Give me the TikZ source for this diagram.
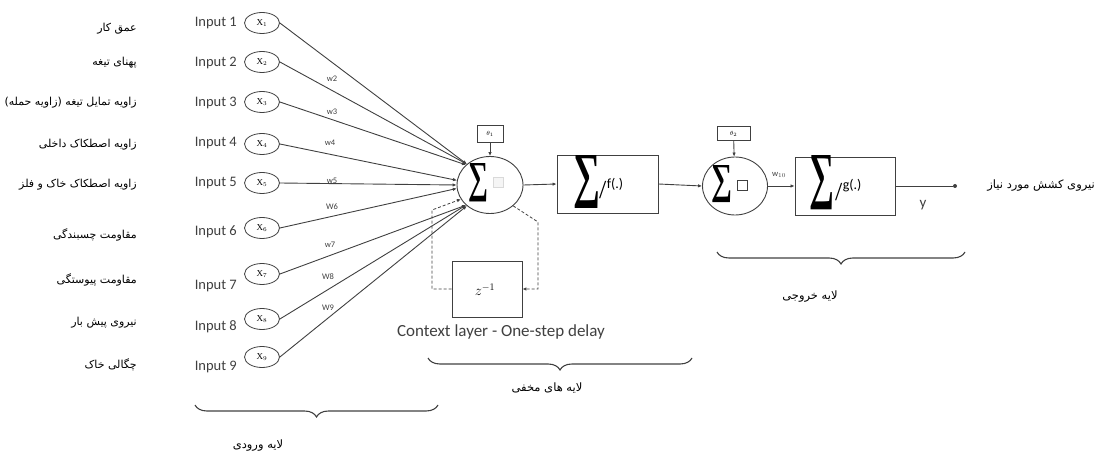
\documentclass[tikz,border=0pt]{standalone}
\usepackage{fontspec}
\usepackage{graphicx}
\setmainfont{Liberation Serif}
\newfontfamily\carl{Carlito}
\newfontfamily\fa[Script=Arabic]{DejaVu Sans}
\TeXXeTstate=1
\usetikzlibrary{arrows.meta,decorations.pathreplacing,shapes.geometric}
\definecolor{ln}{gray}{0.25}
\newcommand{\sgm}[2]{\resizebox{#1}{#2}{\textbf{∑}}}
\tikzset{
  falbl/.style={anchor=east,font=\fa\fontsize{11}{12}\selectfont,inner sep=0pt},
  inlbl/.style={anchor=east,font=\carl\fontsize{14.5}{15}\selectfont,inner sep=0pt,text=ln},
  xin/.style={draw=ln,ellipse,line width=0.8pt,minimum width=35pt,minimum height=21pt,inner sep=0pt,font=\fontsize{9}{10}\selectfont},
  wlbl/.style={font=\carl\fontsize{8.5}{9}\selectfont,inner sep=0pt,text=ln},
  conn/.style={draw=ln,line width=0.9pt,-{Latex[length=4pt,width=3.5pt]}},
  dconn/.style={draw=ln,line width=0.8pt,densely dashed,-{Latex[length=4pt,width=3.5pt]}},
  sumnode/.style={draw=ln,ellipse,line width=0.9pt,minimum width=66pt,minimum height=57pt,inner sep=0pt},
  blk/.style={draw=ln,line width=0.9pt,rectangle,inner sep=0pt},
  bias/.style={draw=ln,line width=0.7pt,rectangle,inner sep=0pt,font=\fontsize{6}{6}\selectfont},
  brc/.style={draw=ln,line width=1.1pt,decorate,decoration={brace,amplitude=12pt}},
  falayer/.style={font=\fa\fontsize{11.5}{12}\selectfont,inner sep=0pt},
  fnlbl/.style={inner sep=0pt,anchor=west}
}
\begin{document}
\begin{tikzpicture}[x=1pt,y=-1pt]
\useasboundingbox (0,0) rectangle (1097,454);
% Persian input descriptions
\node[falbl] (d1) at (137,29) {\beginR عمق کار\endR};
\node[falbl] (d2) at (137,63) {\beginR پهنای تیغه\endR};
\node[falbl] (d3) at (137,103) {\beginR زاویه تمایل تیغه (زاویه حمله)\endR};
\node[falbl] (d4) at (137,145) {\beginR زاویه اصطکاک داخلی\endR};
\node[falbl] (d5) at (137,185) {\beginR زاویه اصطکاک خاک و فلز\endR};
\node[falbl] (d6) at (137,235) {\beginR مقاومت چسبندگی\endR};
\node[falbl] (d7) at (137,280) {\beginR مقاومت پیوستگی\endR};
\node[falbl] (d8) at (137,323) {\beginR نیروی پیش بار\endR};
\node[falbl] (d9) at (137,365) {\beginR چگالی خاک\endR};
% Input labels
\node[inlbl] (i1) at (237,23) {Input 1};
\node[inlbl] (i2) at (237,63) {Input 2};
\node[inlbl] (i3) at (237,103) {Input 3};
\node[inlbl] (i4) at (237,143) {Input 4};
\node[inlbl] (i5) at (237,183) {Input 5};
\node[inlbl] (i6) at (237,232) {Input 6};
\node[inlbl] (i7) at (237,286) {Input 7};
\node[inlbl] (i8) at (237,327) {Input 8};
\node[inlbl] (i9) at (237,367) {Input 9};
% input ellipses
\node[xin] (x1) at (262,23) {X$_1$};
\node[xin] (x2) at (262,62) {X$_2$};
\node[xin] (x3) at (262,102) {X$_3$};
\node[xin] (x4) at (262,144) {X$_4$};
\node[xin] (x5) at (262,183) {X$_5$};
\node[xin] (x6) at (262,228) {X$_6$};
\node[xin] (x7) at (262,274) {X$_7$};
\node[xin] (x8) at (262,319) {X$_8$};
\node[xin] (x9) at (262,357) {X$_9$};
% summation node 1
\node[sumnode] (s1) at (490,185) {};
\node[inner sep=0pt] (s1sig) at (478,183) {\sgm{20pt}{29pt}};
\node[draw=black!15,fill=black!4,minimum size=10pt,inner sep=0pt] (s1sq) at (498,182) {};
\node[bias,minimum width=26pt,minimum height=17pt] (b1) at (490,133.5) {$\theta_1$};
\draw[conn] (b1) -- (s1);
% connections to s1
\draw[conn] (x1.east) -- (s1.138);
\draw[conn] (x2.east) -- (s1.138);
\draw[conn] (x3.east) -- (s1.140);
\draw[conn] (x4.east) -- (s1.172);
\draw[conn] (x5.east) -- (s1.180);
\draw[conn] (x6.east) -- (s1.186);
\draw[conn] (x7.east) -- (s1.220);
\draw[conn] (x8.east) -- (s1.220);
\draw[conn] (x9.east) -- (s1.222);
% weights
\node[wlbl] (w2) at (332,79) {w2};
\node[wlbl] (w3) at (332,112) {w3};
\node[wlbl] (w4) at (330,143) {w4};
\node[wlbl] (w5) at (332,181) {w5};
\node[wlbl] (w6) at (332,207) {W6};
\node[wlbl] (w7) at (330,245) {w7};
\node[wlbl] (w8) at (328,277) {W8};
\node[wlbl] (w9) at (328,308) {W9};
% hidden block
\node[blk,minimum width=101pt,minimum height=58pt] (h1) at (607.5,184) {};
\node[inner sep=0pt] (h1sig) at (587,182) {\sgm{27pt}{40pt}};
\node[fnlbl] (h1s) at (599,190) {\fontsize{26}{26}\selectfont /};
\node[fnlbl] (h1f) at (h1s.east |- 0,184) {\carl\fontsize{14}{14}\selectfont f(.)};
\draw[conn] (s1.east) -- (h1.west);
% delay box
\node[blk,minimum width=70pt,minimum height=56pt] (dl) at (487,289) {};
\node[inner sep=0pt] (dlt) at (485,290) {\fontsize{14}{14}\selectfont$z^{-1}$};
\coordinate (dr1) at (538,222);
\coordinate (dr2) at (538,289);
\coordinate (dl1) at (432,289);
\coordinate (dl2) at (432,210);
\draw[dconn] (s1.-42) -- (dr1) -- (dr2) -- (dl.east);
\draw[dconn] (dl.west) -- (dl1) -- (dl2) -- (s1.206);
\node[font=\carl\fontsize{17}{18}\selectfont,text=ln,inner sep=0pt] (ctx) at (501,332) {Context layer - One-step delay};
% output summation
\node[sumnode,minimum width=65pt,minimum height=58pt] (s2) at (735,186) {};
\node[inner sep=0pt] (s2sig) at (722,184) {\sgm{21pt}{28pt}};
\node[draw=ln,line width=0.6pt,minimum size=10pt,inner sep=0pt] (s2sq) at (742,185.5) {};
\node[bias,minimum width=33pt,minimum height=14pt] (b2) at (733.5,133.5) {$\theta_2$};
\draw[conn] (b2) -- (s2);
\draw[conn] (h1.east) -- (s2.west);
% output block
\node[blk,minimum width=100pt,minimum height=58pt] (o1) at (845,186) {};
\node[inner sep=0pt] (o1sig) at (822,183) {\sgm{25pt}{41pt}};
\node[fnlbl] (o1s) at (835,192) {\fontsize{26}{26}\selectfont /};
\node[fnlbl] (o1g) at (o1s.east |- 0,186) {\carl\fontsize{14}{14}\selectfont g(.)};
\draw[conn] (s2.east) -- (o1.west);
\node[wlbl] (w10) at (779,175) {w$_{10}$};
\node[circle,fill=ln,minimum size=4pt,inner sep=0pt] (yd) at (955,186) {};
\draw[draw=ln,line width=0.8pt] (o1.east) -- (yd);
\node[font=\carl\fontsize{15}{16}\selectfont,text=ln,inner sep=0pt] (ylbl) at (923,205) {y};
\node[falayer,anchor=east] (outt) at (1095,186) {\beginR نیروی کشش مورد نیاز\endR};
% braces
\draw[brc] (438,405) -- (195,405);
\node[falayer] (lin) at (258,446) {\beginR لایه ورودی\endR};
\draw[brc] (692,358) -- (428,358);
\node[falayer] (lhid) at (547,388) {\beginR لایه های مخفی\endR};
\draw[brc] (965,252) -- (717,252);
\node[falayer] (lout) at (810,297) {\beginR لایه خروجی\endR};
\end{tikzpicture}
\end{document}
